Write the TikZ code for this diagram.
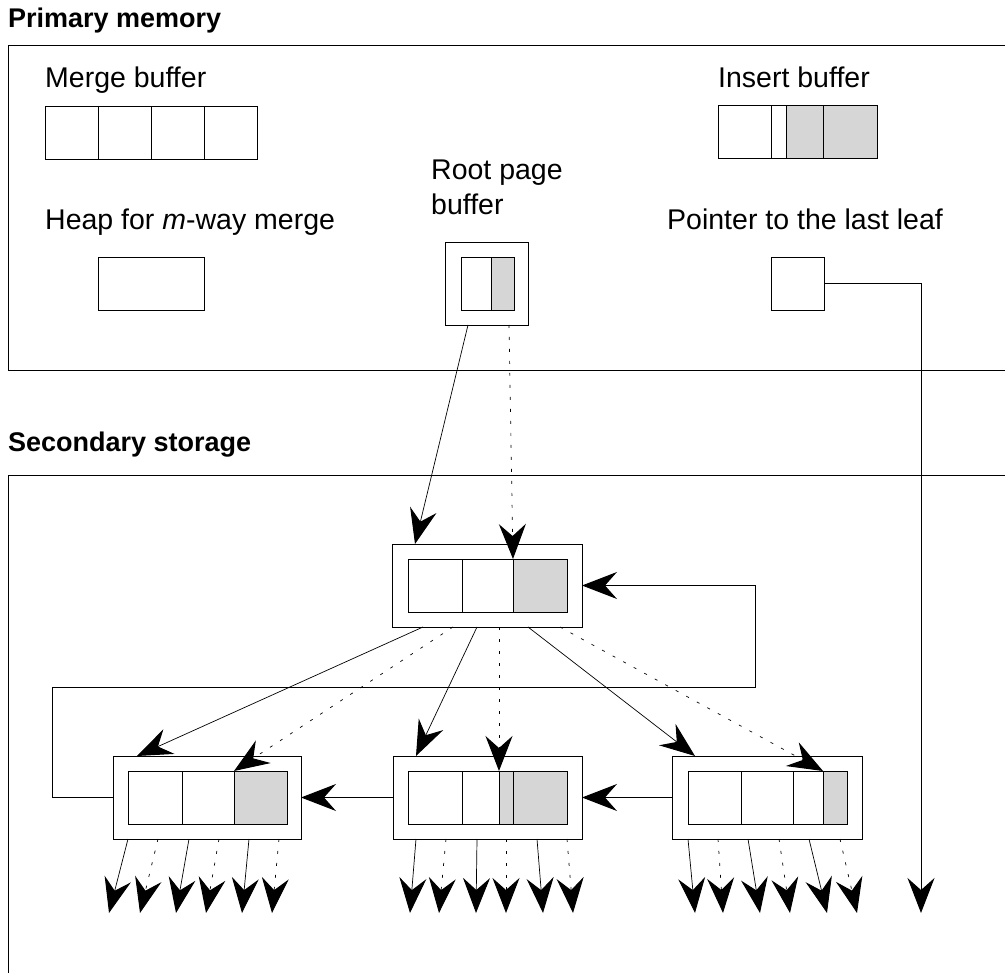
\documentclass[tikz,border=0pt]{standalone}
\usepackage{fontspec}
\setmainfont{Liberation Sans}
\usetikzlibrary{arrows.meta}
\begin{document}
\begin{tikzpicture}[x=1pt,y=-1pt,
  cell/.style={draw, line width=0.8pt, inner sep=0pt, outer sep=0pt, minimum height=53pt, anchor=north west},
  outerbox/.style={draw, line width=0.9pt, inner sep=0pt, outer sep=0pt, minimum height=83pt, anchor=north west},
  shaded/.style={fill=gray!32},
  frame/.style={line width=0.8pt},
  conn/.style={line width=0.7pt, -{Stealth[length=35pt, width=27pt, inset=12pt, line width=1pt]}},
  dconn/.style={conn, dash pattern=on 3pt off 9pt},
  lbl/.style={anchor=base west, inner sep=0pt, font=\fontsize{28.5}{32}\selectfont},
  title/.style={anchor=base west, inner sep=0pt, font=\fontsize{27}{32}\selectfont\bfseries}]
\useasboundingbox (0,0) rectangle (1005,973);

% frames
\draw[frame] (1005,45) -- (8,45) -- (8,370) -- (1005,370);
\draw[frame] (1005,475) -- (8,475) -- (8,973);
\node[title] (tpm) at (8,28) {Primary memory};
\node[title] (tss) at (8,452) {Secondary storage};

% merge buffer
\node[lbl] (lmb) at (45,88) {Merge buffer};
\node[cell, minimum width=53pt] (mb1) at (45,106) {};
\node[cell, minimum width=53pt] (mb2) at (98,106) {};
\node[cell, minimum width=53pt] (mb3) at (151,106) {};
\node[cell, minimum width=53pt] (mb4) at (204,106) {};

% insert buffer
\node[lbl] (lib) at (718,88) {Insert buffer};
\node[cell, minimum width=53pt] (ib1) at (718,105) {};
\node[cell, minimum width=15pt] (ib2) at (771,105) {};
\node[cell, shaded, minimum width=37pt] (ib3) at (786,105) {};
\node[cell, shaded, minimum width=54pt] (ib4) at (823,105) {};

% heap
\node[lbl] (lhp) at (45,230) {Heap for \textit{m}-way merge};
\node[cell, minimum width=106pt] (heap) at (98,257) {};

% root page buffer
\node[lbl] (lrp1) at (431,180) {Root page};
\node[lbl] (lrp2) at (431,215) {buffer};
\node[outerbox, minimum width=83pt] (rpo) at (445,242) {};
\node[cell, minimum width=30pt] (rp1) at (461,257) {};
\node[cell, shaded, minimum width=23pt] (rp2) at (491,257) {};

% pointer to last leaf
\node[lbl] (lpt) at (667,230) {Pointer to the last leaf};
\node[cell, minimum width=53pt] (ptr) at (771,257) {};

% top node
\node[outerbox, minimum width=190pt] (tno) at (392,544) {};
\node[cell, minimum width=54pt] (tn1) at (408,559) {};
\node[cell, minimum width=51pt] (tn2) at (462,559) {};
\node[cell, shaded, minimum width=54pt] (tn3) at (513,559) {};

% leaf 1
\node[outerbox, minimum width=188pt] (l1o) at (113,756) {};
\node[cell, minimum width=54pt] (l1a) at (128,771) {};
\node[cell, minimum width=52pt] (l1b) at (182,771) {};
\node[cell, shaded, minimum width=53pt] (l1c) at (234,771) {};

% leaf 2
\node[outerbox, minimum width=189pt] (l2o) at (393,756) {};
\node[cell, minimum width=54pt] (l2a) at (408,771) {};
\node[cell, minimum width=37pt] (l2b) at (462,771) {};
\node[cell, shaded, minimum width=14pt] (l2c) at (499,771) {};
\node[cell, shaded, minimum width=54pt] (l2d) at (513,771) {};

% leaf 3
\node[outerbox, minimum width=190pt] (l3o) at (672,756) {};
\node[cell, minimum width=53pt] (l3a) at (688,771) {};
\node[cell, minimum width=52pt] (l3b) at (741,771) {};
\node[cell, minimum width=30pt] (l3c) at (793,771) {};
\node[cell, shaded, minimum width=24pt] (l3d) at (823,771) {};

% root page -> top node
\draw[conn] ([xshift=23pt]rpo.south west) -- ([xshift=23pt]tno.north west);
\draw[dconn] ([xshift=64pt]rpo.south west) -- (tn3.north west);

% top node -> leaves
\draw[conn] ([xshift=31pt]tno.south west) -- ([xshift=24pt]l1o.north west);
\draw[dconn] ([xshift=61pt]tno.south west) -- (l1c.north west);
\draw[conn] ([xshift=85pt]tno.south west) -- ([xshift=23pt]l2o.north west);
\draw[dconn] ([xshift=107pt]tno.south west) -- (l2c.north west);
\draw[conn] ([xshift=136pt]tno.south west) -- ([xshift=23pt]l3o.north west);
\draw[dconn] ([xshift=168pt]tno.south west) -- (l3d.north west);

% sibling links
\draw[conn] (l3o.west) -- (l2o.east);
\draw[conn] (l2o.west) -- (l1o.east);

% loop back to top node
\coordinate (loopA) at (52,687);
\coordinate (loopB) at (755,687);
\draw[conn] (l1o.west) -| (loopA) -- (loopB) |- (tno.east);

% pointer to the last leaf
\coordinate (ptrend) at (921,913);
\draw[conn] (ptr.east) -| (ptrend);

% children of leaves
\foreach \s/\t [count=\i] in {15/109,45/140,76/176,106/206,136/242,166/272}{
  \coordinate (ca\i) at (\t,913);
  \ifodd\i
    \draw[conn] ([xshift=\s pt]l1o.south west) -- (ca\i);
  \else
    \draw[dconn] ([xshift=\s pt]l1o.south west) -- (ca\i);
  \fi
}
\foreach \s/\t [count=\i] in {23/410,53/439,84/476,113/506,144/543,174/573}{
  \coordinate (cb\i) at (\t,913);
  \ifodd\i
    \draw[conn] ([xshift=\s pt]l2o.south west) -- (cb\i);
  \else
    \draw[dconn] ([xshift=\s pt]l2o.south west) -- (cb\i);
  \fi
}
\foreach \s/\t [count=\i] in {16/695,46/723,76/760,107/790,137/827,168/857}{
  \coordinate (cc\i) at (\t,913);
  \ifodd\i
    \draw[conn] ([xshift=\s pt]l3o.south west) -- (cc\i);
  \else
    \draw[dconn] ([xshift=\s pt]l3o.south west) -- (cc\i);
  \fi
}
\end{tikzpicture}
\end{document}
